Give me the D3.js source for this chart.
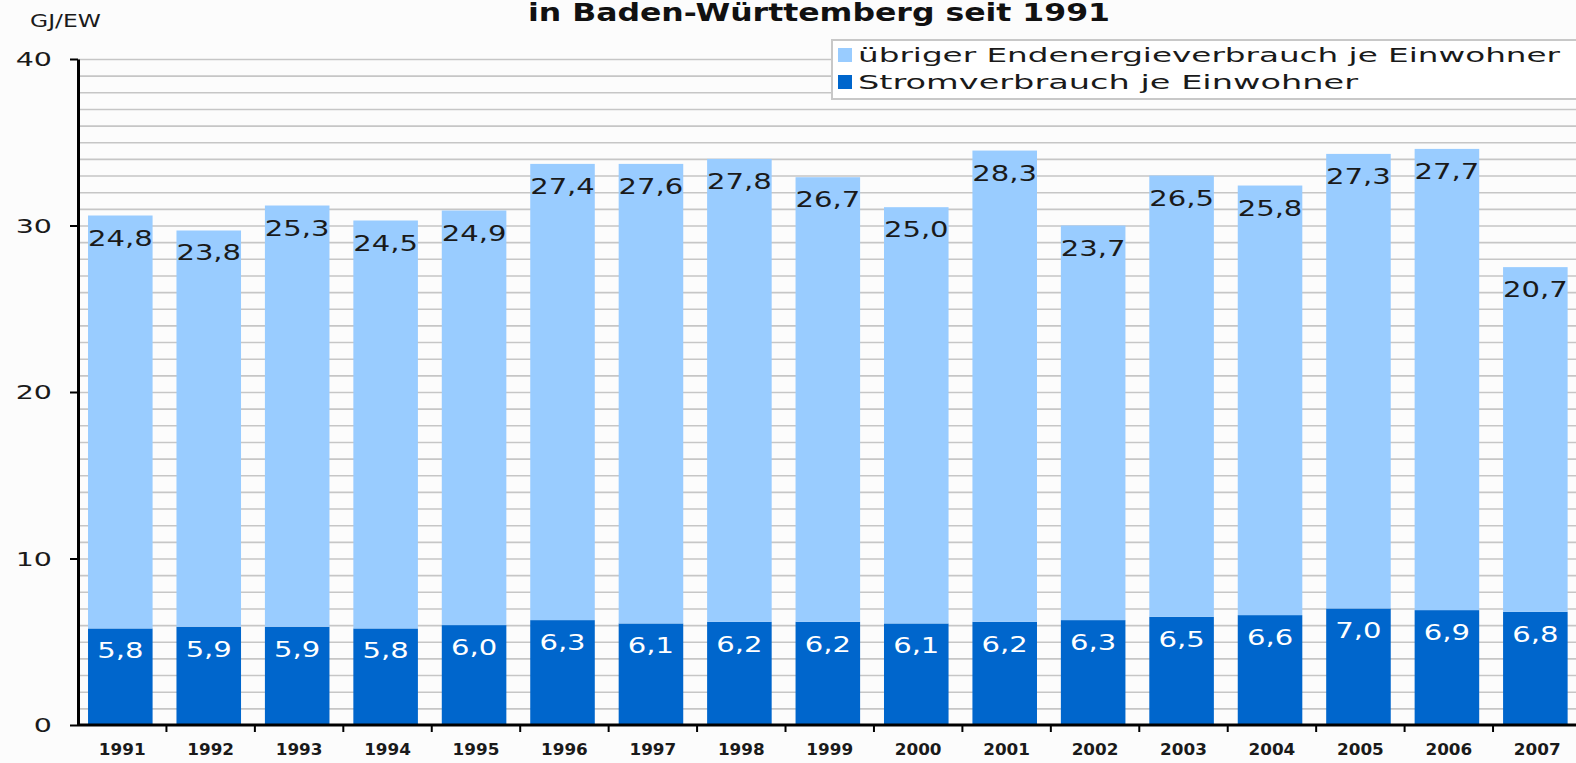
<!DOCTYPE html>
<html>
<head>
<meta charset="utf-8">
<script src="https://cdn.jsdelivr.net/npm/d3@7"></script>
<style>
  html, body { margin: 0; padding: 0; background: #fcfcfc; }
  svg { display: block; }
</style>
</head>
<body>
<div id="chart"></div>
<script>
// values (GJ per inhabitant)
const years = ["1991", "1992", "1993", "1994", "1995", "1996", "1997", "1998", "1999",
  "2000", "2001", "2002", "2003", "2004", "2005", "2006", "2007"];
const strom = [5.8, 5.9, 5.9, 5.8, 6.0, 6.3, 6.1, 6.2, 6.2, 6.1, 6.2, 6.3, 6.5, 6.6, 7.0, 6.9, 6.8];
const uebriger = [24.8, 23.8, 25.3, 24.5, 24.9, 27.4, 27.6, 27.8, 26.7, 25.0, 28.3, 23.7, 26.5, 25.8, 27.3, 27.7, 20.7];
const yTicks = [0, 10, 20, 30, 40];
const legendLabels = ["übriger Endenergieverbrauch je Einwohner", "Stromverbrauch je Einwohner"];

const settings = {
  width: 1576,
  height: 763,
  left: 78, // y axis position
  top: 59, // value 40
  bottom: 725, // value 0
  step: 88.44, // width of one year slot
  lightColor: "#99ccff",
  darkColor: "#0066cc",
  gridColor: "#c6c6c6",
  font: "Verdana, 'DejaVu Sans', sans-serif",
};

// the original has wide, stretched lettering - widen the glyphs after measuring them
function stretch(sel, factor) {
  sel.each(function () {
    const w = this.getComputedTextLength();
    d3.select(this).attr("textLength", w * factor).attr("lengthAdjust", "spacingAndGlyphs");
  });
}

const rows = years.map((y, i) => ({ year: y, strom: strom[i], uebriger: uebriger[i] }));
const stacked = d3.stack().keys(["strom", "uebriger"])(rows);

const svg = d3.select("#chart").append("svg")
  .attr("width", settings.width)
  .attr("height", settings.height);

svg.append("rect").attr("width", settings.width).attr("height", settings.height).attr("fill", "#fcfcfc");

const xCat = d3.scaleBand().domain(years)
  .range([settings.left, settings.left + years.length * settings.step]);
const xBar = d3.scaleBand().domain(years)
  .range([settings.left, settings.left + years.length * settings.step])
  .paddingInner(0.27).paddingOuter(0.135).align(0.42);
const y = d3.scaleLinear().domain([0, 40]).range([settings.bottom, settings.top]);

// horizontal grid every 1 GJ
svg.append("g")
  .attr("transform", `translate(${settings.left},0)`)
  .call(d3.axisLeft(y).tickValues(d3.range(1, 41)).tickSize(-(settings.width - settings.left)).tickFormat(""))
  .call((g) => g.select(".domain").remove())
  .call((g) => g.selectAll("line").attr("stroke", settings.gridColor).attr("stroke-width", 1.6));

// bars
const colors = { strom: settings.darkColor, uebriger: settings.lightColor };
svg.append("g").selectAll("g")
  .data(stacked)
  .join("g")
  .attr("fill", (s) => colors[s.key])
  .selectAll("rect")
  .data((s) => s)
  .join("rect")
  .attr("x", (d) => xBar(d.data.year))
  .attr("width", xBar.bandwidth())
  .attr("y", (d) => y(d[1]))
  .attr("height", (d) => y(d[0]) - y(d[1]));

// value labels inside the top of each segment
const fmt = (v) => v.toFixed(1).replace(".", ",");
stacked.forEach((s) => {
  svg.append("g").selectAll("text")
    .data(s)
    .join("text")
    .attr("x", (d) => xBar(d.data.year) + xBar.bandwidth() / 2)
    .attr("y", (d) => y(d[1]) + 30)
    .attr("text-anchor", "middle")
    .style("font-family", settings.font)
    .style("font-size", "22px")
    .attr("fill", s.key === "strom" ? "#ffffff" : "#1a1a1a")
    .text((d) => fmt(d.data[s.key]))
    .call(stretch, 1.32);
});

// y axis
const yAxis = svg.append("g")
  .attr("transform", `translate(${settings.left},0)`)
  .call(d3.axisLeft(y).tickValues(yTicks).tickSize(8).tickPadding(18).tickSizeOuter(0));
yAxis.select(".domain").attr("stroke", "#000").attr("stroke-width", 3);
yAxis.selectAll(".tick line").attr("stroke", "#000").attr("stroke-width", 2);
yAxis.selectAll("text")
  .style("font-family", settings.font)
  .style("font-size", "19px")
  .attr("fill", "#1a1a1a")
  .attr("dy", "0.36em")
  .call(stretch, 1.5);

// x axis: tick marks between the years, labels centered below
const xAxis = svg.append("g").attr("transform", `translate(0,${settings.bottom})`);
xAxis.append("line")
  .attr("x1", settings.left).attr("x2", settings.width)
  .attr("stroke", "#000").attr("stroke-width", 3);
xAxis.selectAll("line.tick")
  .data(years.slice(1))
  .join("line")
  .attr("class", "tick")
  .attr("x1", (d) => xCat(d)).attr("x2", (d) => xCat(d))
  .attr("y1", 0).attr("y2", 7)
  .attr("stroke", "#000").attr("stroke-width", 2);
xAxis.selectAll("text")
  .data(years)
  .join("text")
  .attr("x", (d) => xCat(d) + xCat.bandwidth() / 2)
  .attr("y", 30)
  .attr("text-anchor", "middle")
  .style("font-family", settings.font)
  .style("font-size", "16px")
  .style("font-weight", "bold")
  .attr("fill", "#1a1a1a")
  .text((d) => d)
  .call(stretch, 1.05);

// unit label
svg.append("text")
  .attr("x", 30).attr("y", 27)
  .style("font-family", settings.font)
  .style("font-size", "18px")
  .attr("fill", "#1a1a1a")
  .text("GJ/EW")
  .call(stretch, 1.3);

// title (first line is cut off in the original)
svg.append("text")
  .attr("x", 528).attr("y", 21)
  .style("font-family", settings.font)
  .style("font-size", "24px")
  .style("font-weight", "bold")
  .attr("fill", "#111")
  .attr("textLength", 582)
  .attr("lengthAdjust", "spacingAndGlyphs")
  .text("in Baden-Württemberg seit 1991");

// legend
const legend = svg.append("g").attr("transform", "translate(832,40)");
legend.append("rect")
  .attr("width", 800).attr("height", 59)
  .attr("fill", "#ffffff")
  .attr("stroke", "#c8c8c8").attr("stroke-width", 2);
const legendColors = [settings.lightColor, settings.darkColor];
const legendWidths = [702, 500];
const items = legend.selectAll("g.item")
  .data(legendLabels)
  .join("g")
  .attr("class", "item")
  .attr("transform", (d, i) => `translate(6,${8 + i * 27})`);
items.append("rect")
  .attr("width", 14).attr("height", 14)
  .attr("fill", (d, i) => legendColors[i]);
items.append("text")
  .attr("x", 20).attr("y", 14)
  .style("font-family", settings.font)
  .style("font-size", "19px")
  .attr("fill", "#1a1a1a")
  .attr("textLength", (d, i) => legendWidths[i])
  .attr("lengthAdjust", "spacingAndGlyphs")
  .text((d) => d);
</script>
</body>
</html>
